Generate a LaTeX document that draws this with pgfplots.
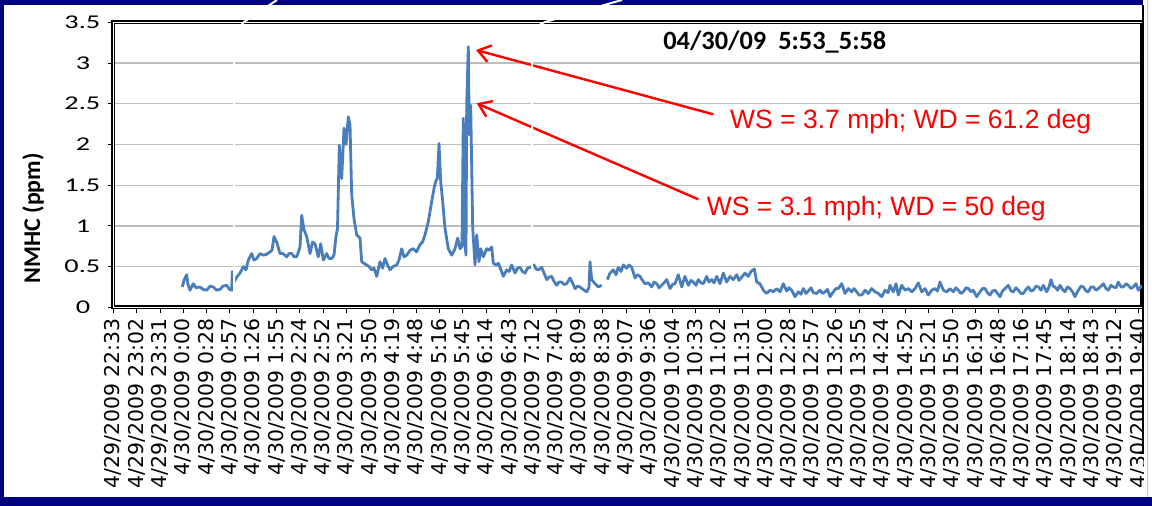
\documentclass[border=0pt]{standalone}
\usepackage{fontspec}
\usepackage{pgfplots}
\pgfplotsset{compat=1.18}
\usetikzlibrary{arrows.meta}
\setmainfont{Carlito}
\newfontfamily\ytfont{Carlito}[FakeStretch=1.45]
\newfontfamily\xtfont{DejaVu Sans}
\newfontfamily\arialf{Liberation Sans}
\definecolor{navyb}{RGB}{0,0,128}
\definecolor{dblue}{RGB}{74,126,187}
\definecolor{gridg}{RGB}{190,190,190}
\begin{document}
\begin{tikzpicture}
\fill[navyb] (0pt,0pt) rectangle (1152pt,506pt);
\fill[white] (4pt,9pt) rectangle (1152pt,500.5pt);
\fill[white] (1143pt,500pt) rectangle (1152pt,506pt);
\begin{axis}[
  at={(113.3pt,198.7pt)}, anchor=south west,
  scale only axis, width=1028.7pt, height=285pt,
  xmin=0, xmax=44.15, ymin=0, ymax=3.5,
  clip=false,
  unbounded coords=jump,
  axis line style={line width=1.5pt, double=white, double distance=0.9pt},
  ymajorgrids, grid style={gridg, line width=1.3pt},
  xtick={0,...,44},
  xticklabels={4/29/2009 22:33,4/29/2009 23:02,4/29/2009 23:31,4/30/2009 0:00,4/30/2009 0:28,4/30/2009 0:57,4/30/2009 1:26,4/30/2009 1:55,4/30/2009 2:24,4/30/2009 2:52,4/30/2009 3:21,4/30/2009 3:50,4/30/2009 4:19,4/30/2009 4:48,4/30/2009 5:16,4/30/2009 5:45,4/30/2009 6:14,4/30/2009 6:43,4/30/2009 7:12,4/30/2009 7:40,4/30/2009 8:09,4/30/2009 8:38,4/30/2009 9:07,4/30/2009 9:36,4/30/2009 10:04,4/30/2009 10:33,4/30/2009 11:02,4/30/2009 11:31,4/30/2009 12:00,4/30/2009 12:28,4/30/2009 12:57,4/30/2009 13:26,4/30/2009 13:55,4/30/2009 14:24,4/30/2009 14:52,4/30/2009 15:21,4/30/2009 15:50,4/30/2009 16:19,4/30/2009 16:48,4/30/2009 17:16,4/30/2009 17:45,4/30/2009 18:14,4/30/2009 18:43,4/30/2009 19:12,4/30/2009 19:40},
  xticklabel style={rotate=90, anchor=east, inner sep=0pt, font=\xtfont\fontsize{20.4}{22}\selectfont},
  xticklabel shift=5.5pt,
  ytick={0,0.5,1,1.5,2,2.5,3,3.5},
  yticklabels={0\hspace*{10pt},0.5,1\hspace*{10pt},1.5,2\hspace*{10pt},2.5,3\hspace*{10pt},3.5},
  yticklabel style={anchor=east, inner sep=0pt, font=\ytfont\fontsize{19.5}{21}\selectfont},
  yticklabel shift=7.3pt,
  xtick pos=bottom, ytick pos=left,
  tick align=outside, major tick length=5.5pt,
  tick style={black, line width=0.8pt},
  ylabel={NMHC (ppm)},
  every axis y label/.style={at={(axis description cs:-0.078,0.312)}, rotate=90, anchor=center, font=\bfseries\fontsize{24}{26}\selectfont},
]
\addplot[dblue, line width=2.8pt, line join=round] table {
x y
2.961 0.25
3.034 0.33
3.150 0.40
3.206 0.28
3.292 0.21
3.433 0.29
3.549 0.24
3.721 0.25
3.850 0.22
4.009 0.21
4.150 0.26
4.292 0.25
4.429 0.21
4.579 0.22
4.708 0.26
4.867 0.27
4.987 0.22
5.082 0.21
5.107 0.44
5.202 0.32
5.296 0.37
5.438 0.42
5.579 0.50
5.695 0.46
5.794 0.58
5.940 0.66
6.039 0.58
6.155 0.60
6.296 0.66
6.438 0.64
6.575 0.65
6.725 0.68
6.811 0.70
6.897 0.87
7.013 0.80
7.154 0.66
7.283 0.66
7.442 0.62
7.541 0.66
7.657 0.66
7.755 0.62
7.871 0.62
8.013 0.74
8.086 1.13
8.185 0.95
8.300 0.87
8.442 0.66
8.549 0.80
8.657 0.78
8.798 0.62
8.901 0.78
9.013 0.58
9.159 0.66
9.257 0.60
9.373 0.60
9.472 0.64
9.558 0.87
9.622 0.97
9.700 1.99
9.803 1.58
9.901 2.20
9.987 2.00
10.086 2.34
10.159 2.24
10.232 1.38
10.330 1.09
10.446 0.89
10.588 0.85
10.661 0.56
10.760 0.54
10.875 0.52
10.974 0.50
11.090 0.46
11.189 0.48
11.305 0.38
11.446 0.56
11.554 0.48
11.661 0.60
11.768 0.52
11.876 0.46
12.004 0.50
12.163 0.52
12.262 0.58
12.378 0.72
12.476 0.62
12.592 0.64
12.734 0.70
12.875 0.72
13.013 0.68
13.163 0.77
13.270 0.80
13.378 0.89
13.519 1.05
13.665 1.30
13.764 1.46
13.850 1.56
13.906 1.58
13.979 2.01
14.052 1.54
14.137 1.30
14.236 0.97
14.378 0.72
14.524 0.64
14.665 0.72
14.781 0.85
14.880 0.72
14.966 0.75
15.021 2.32
15.081 0.81
15.137 0.64
15.167 2.48
15.236 3.20
15.279 2.12
15.339 2.48
15.425 0.97
15.524 0.52
15.597 0.89
15.695 0.56
15.768 0.72
15.880 0.62
16.026 0.72
16.124 0.70
16.240 0.74
16.309 0.54
16.425 0.52
16.524 0.54
16.639 0.46
16.738 0.38
16.884 0.46
16.983 0.44
17.099 0.52
17.240 0.42
17.348 0.48
17.455 0.49
17.562 0.44
17.670 0.42
17.777 0.48
17.884 0.49
18.056 0.52
18.142 0.47
18.240 0.46
18.386 0.49
18.485 0.42
18.601 0.34
18.700 0.37
18.815 0.38
18.914 0.32
19.030 0.27
19.129 0.31
19.245 0.31
19.343 0.28
19.459 0.29
19.601 0.36
19.708 0.30
19.815 0.23
19.923 0.26
20.030 0.25
20.159 0.22
20.317 0.19
20.416 0.24
20.459 0.56
20.532 0.34
20.674 0.29
20.815 0.25
20.961 0.27
21.080 nan
21.202 0.34
21.318 0.42
21.459 0.46
21.575 0.40
21.674 0.49
21.790 0.44
21.888 0.52
22.034 0.48
22.133 0.52
22.249 0.49
22.391 0.36
22.498 0.40
22.605 0.38
22.712 0.33
22.820 0.29
22.961 0.30
23.107 0.25
23.206 0.31
23.322 0.29
23.421 0.24
23.536 0.27
23.635 0.30
23.751 0.34
23.893 0.23
24.000 0.28
24.107 0.29
24.249 0.40
24.395 0.25
24.536 0.38
24.678 0.27
24.794 0.33
24.893 0.31
25.009 0.27
25.107 0.34
25.223 0.30
25.322 0.29
25.468 0.38
25.567 0.31
25.682 0.34
25.781 0.30
25.897 0.38
26.038 0.29
26.180 0.42
26.326 0.31
26.468 0.38
26.609 0.34
26.755 0.40
26.854 0.33
26.970 0.37
27.112 0.42
27.253 0.38
27.369 0.44
27.511 0.47
27.614 0.31
27.755 0.29
27.897 0.21
28.043 0.17
28.185 0.21
28.326 0.19
28.472 0.23
28.614 0.19
28.755 0.29
28.901 0.20
29.000 0.24
29.116 0.21
29.258 0.13
29.399 0.19
29.515 0.16
29.614 0.23
29.730 0.17
29.828 0.20
29.944 0.24
30.043 0.18
30.189 0.17
30.330 0.21
30.438 0.17
30.545 0.19
30.652 0.22
30.760 0.13
30.901 0.19
31.017 0.23
31.116 0.23
31.262 0.29
31.403 0.17
31.545 0.23
31.691 0.19
31.789 0.23
31.905 0.19
32.004 0.15
32.120 0.15
32.262 0.21
32.403 0.17
32.549 0.23
32.691 0.19
32.833 0.17
32.979 0.13
33.120 0.21
33.249 0.18
33.335 0.27
33.476 0.19
33.592 0.29
33.691 0.15
33.837 0.27
33.979 0.21
34.120 0.23
34.266 0.19
34.408 0.23
34.549 0.30
34.695 0.19
34.837 0.23
34.979 0.15
35.124 0.21
35.266 0.23
35.373 0.20
35.481 0.31
35.622 0.21
35.768 0.19
35.910 0.23
36.052 0.19
36.167 0.24
36.266 0.21
36.382 0.17
36.481 0.19
36.597 0.24
36.695 0.23
36.811 0.19
36.910 0.21
37.056 0.13
37.197 0.19
37.305 0.23
37.412 0.23
37.519 0.18
37.627 0.15
37.734 0.20
37.841 0.21
37.948 0.17
38.056 0.13
38.163 0.20
38.270 0.23
38.412 0.27
38.528 0.20
38.627 0.19
38.742 0.24
38.841 0.21
38.957 0.17
39.056 0.17
39.172 0.22
39.270 0.25
39.386 0.20
39.485 0.21
39.601 0.26
39.700 0.25
39.815 0.21
39.914 0.27
40.060 0.19
40.159 0.25
40.245 0.34
40.330 0.26
40.416 0.25
40.524 0.21
40.631 0.27
40.738 0.22
40.845 0.19
40.953 0.25
41.060 0.23
41.167 0.19
41.275 0.13
41.416 0.21
41.532 0.26
41.631 0.25
41.747 0.20
41.845 0.19
41.961 0.25
42.060 0.25
42.176 0.21
42.275 0.23
42.391 0.26
42.489 0.29
42.605 0.23
42.704 0.21
42.820 0.27
42.918 0.25
43.034 0.24
43.133 0.31
43.249 0.25
43.348 0.25
43.464 0.29
43.562 0.27
43.678 0.23
43.777 0.25
43.893 0.29
43.991 0.21
44.137 0.27
};
\node[anchor=base, inner sep=0pt, font=\bfseries\fontsize{26.4}{28}\selectfont] at (axis cs:28.39,3.160) {04/30/09\ \ 5:53\_5:58};
\node[anchor=base west, inner sep=0pt, text=red, font=\arialf\fontsize{26.5}{28}\selectfont] at (axis cs:26.468,2.190) {WS = 3.7 mph; WD = 61.2 deg};
\node[anchor=base west, inner sep=0pt, text=red, font=\arialf\fontsize{26.5}{28}\selectfont] at (axis cs:25.468,1.133) {WS = 3.1 mph; WD = 50 deg};
\draw[red, line width=2.4pt, -{Straight Barb[length=12pt,width=17pt,line width=2.4pt]}] (axis cs:25.751,2.370) -- (axis cs:15.567,3.160);
\draw[red, line width=2.4pt, -{Straight Barb[length=12pt,width=17pt,line width=2.4pt]}] (axis cs:25.107,1.326) -- (axis cs:15.597,2.505);
\end{axis}
% slide decoration swooshes
\draw[white, line width=2pt] (234pt,206pt) -- (234pt,446pt) .. controls (234pt,471pt) and (238pt,478pt) .. (244pt,484pt) -- (277pt,506pt);
\draw[white, line width=2pt] (532pt,206pt) -- (532pt,456pt) .. controls (532pt,476pt) and (536pt,480pt) .. (545pt,484pt) -- (622pt,506pt);
% right edge of chart area
\fill[white] (1144.3pt,9pt) rectangle (1152pt,506pt);
\draw[gray!45, line width=1pt] (1147.5pt,9pt) -- (1147.5pt,506pt);
\draw[black, line width=2.5pt] (1143pt,501pt) -- (1143pt,53pt) -- (1139pt,53pt);
\pgfresetboundingbox
\path[use as bounding box] (0pt,0pt) rectangle (1152pt,506pt);
\end{tikzpicture}
\end{document}
